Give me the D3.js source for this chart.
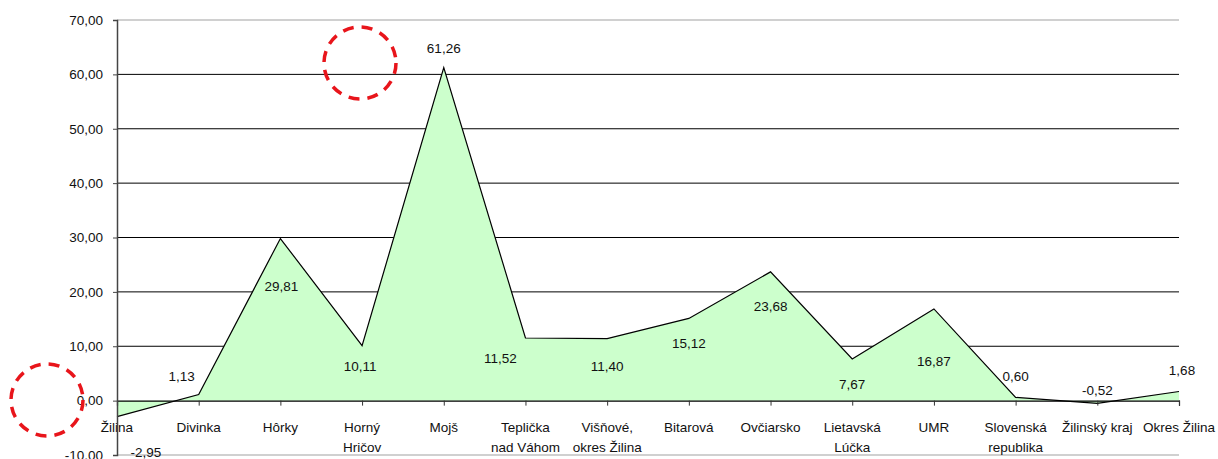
<!DOCTYPE html>
<html>
<head>
<meta charset="utf-8">
<script src="https://cdn.jsdelivr.net/npm/d3@7"></script>
<style>
  body { margin: 0; background: #fff; }
  svg { display: block; font-family: "Liberation Sans", Arial, sans-serif; }
</style>
</head>
<body>
<svg id="chart" width="1218" height="459"></svg>
<script>
// categories (multi-line labels split by \n)
const categories = ["Žilina", "Divinka", "Hôrky", "Horný\nHričov", "Mojš", "Teplička\nnad Váhom",
  "Višňové,\nokres Žilina", "Bitarová", "Ovčiarsko", "Lietavská\nLúčka", "UMR",
  "Slovenská\nrepublika", "Žilinský kraj", "Okres Žilina"];
const values = [-2.95, 1.13, 29.81, 10.11, 61.26, 11.52, 11.40, 15.12, 23.68, 7.67, 16.87, 0.60, -0.52, 1.68];
const yTicks = [-10, 0, 10, 20, 30, 40, 50, 60, 70];

// where excel put each data label, relative to the point
const labelShift = [[29, 35], [-17, -18], [1, 47], [-2, 20], [0, -20], [-25, 20],
  [0, 27], [0, 25], [0, 34], [0, 25], [0, 52], [0, -21], [0, -13], [3, -21]];

const svg = d3.select("#chart");
const locale = d3.formatLocale({decimal: ",", thousands: " ", grouping: [3], currency: ["", ""], minus: "-"});
const fmt = locale.format(".2f");

const x = d3.scalePoint().domain(categories).range([117, 1179]);
const y = d3.scaleLinear().domain([-10, 70]).range([455, 20]);

// gridlines
svg.append("g")
  .selectAll("line")
  .data(yTicks.filter(d => d > 0 && d < 70))
  .enter().append("line")
    .attr("x1", 117).attr("x2", 1179)
    .attr("y1", d => y(d)).attr("y2", d => y(d))
    .attr("stroke", "#000").attr("stroke-width", 1);

// plot border top/bottom
svg.append("g")
  .selectAll("line")
  .data([70, -10])
  .enter().append("line")
    .attr("x1", 117).attr("x2", 1179)
    .attr("y1", d => y(d)).attr("y2", d => y(d))
    .attr("stroke", "#c0c0c0").attr("stroke-width", 1.5);

// area
const area = d3.area()
  .x((d, i) => x(categories[i]))
  .y0(y(0))
  .y1(d => y(d));

svg.append("path")
  .datum(values)
  .attr("d", area)
  .attr("fill", "#ccffcc")
  .attr("stroke", "none");

svg.append("path")
  .datum(values)
  .attr("d", d3.line().x((d, i) => x(categories[i])).y(d => y(d)))
  .attr("fill", "none")
  .attr("stroke", "#000")
  .attr("stroke-width", 1.2);

// category axis on zero
const xAxis = svg.append("g")
  .attr("transform", `translate(0,${y(0)})`)
  .call(d3.axisBottom(x).tickSize(5).tickFormat(""));
xAxis.select(".domain").attr("stroke", "#000").attr("stroke-width", 1.2);
xAxis.selectAll(".tick line").attr("stroke", "#333");

// category labels
const catLabels = svg.append("g")
  .selectAll("text")
  .data(categories)
  .enter().append("text")
    .attr("x", d => x(d))
    .attr("y", 432)
    .attr("text-anchor", "middle")
    .attr("font-size", 13.5)
    .attr("fill", "#111");
catLabels.each(function(d) {
  const t = d3.select(this);
  d.split("\n").forEach((s, i) => {
    t.append("tspan").attr("x", x(d)).attr("dy", i === 0 ? 0 : 19.5).text(s);
  });
});

// value axis
const yAxis = svg.append("g")
  .attr("transform", "translate(117,0)")
  .call(d3.axisLeft(y).tickValues(yTicks).tickSize(4).tickPadding(10).tickFormat(fmt));
yAxis.select(".domain").attr("stroke", "#444").attr("stroke-width", 1.5);
yAxis.selectAll(".tick line").attr("stroke", "#444");
yAxis.selectAll(".tick text")
  .attr("font-size", 13.5)
  .attr("fill", "#111")
  .attr("font-family", "Liberation Sans, Arial, sans-serif");

// data labels
svg.append("g")
  .selectAll("text")
  .data(values)
  .enter().append("text")
    .attr("x", (d, i) => x(categories[i]) + labelShift[i][0])
    .attr("y", (d, i) => y(d) + labelShift[i][1] + 5)
    .attr("text-anchor", "middle")
    .attr("font-size", 13.5)
    .attr("fill", "#111")
    .text(fmt);

// red dashed markers
svg.append("g")
  .selectAll("circle")
  .data([[360, 63], [47, 400]])
  .enter().append("circle")
    .attr("cx", d => d[0]).attr("cy", d => d[1])
    .attr("r", 36)
    .attr("fill", "none")
    .attr("stroke", "#e8151b")
    .attr("stroke-width", 3.5)
    .attr("stroke-dasharray", "11 8");
</script>
</body>
</html>
